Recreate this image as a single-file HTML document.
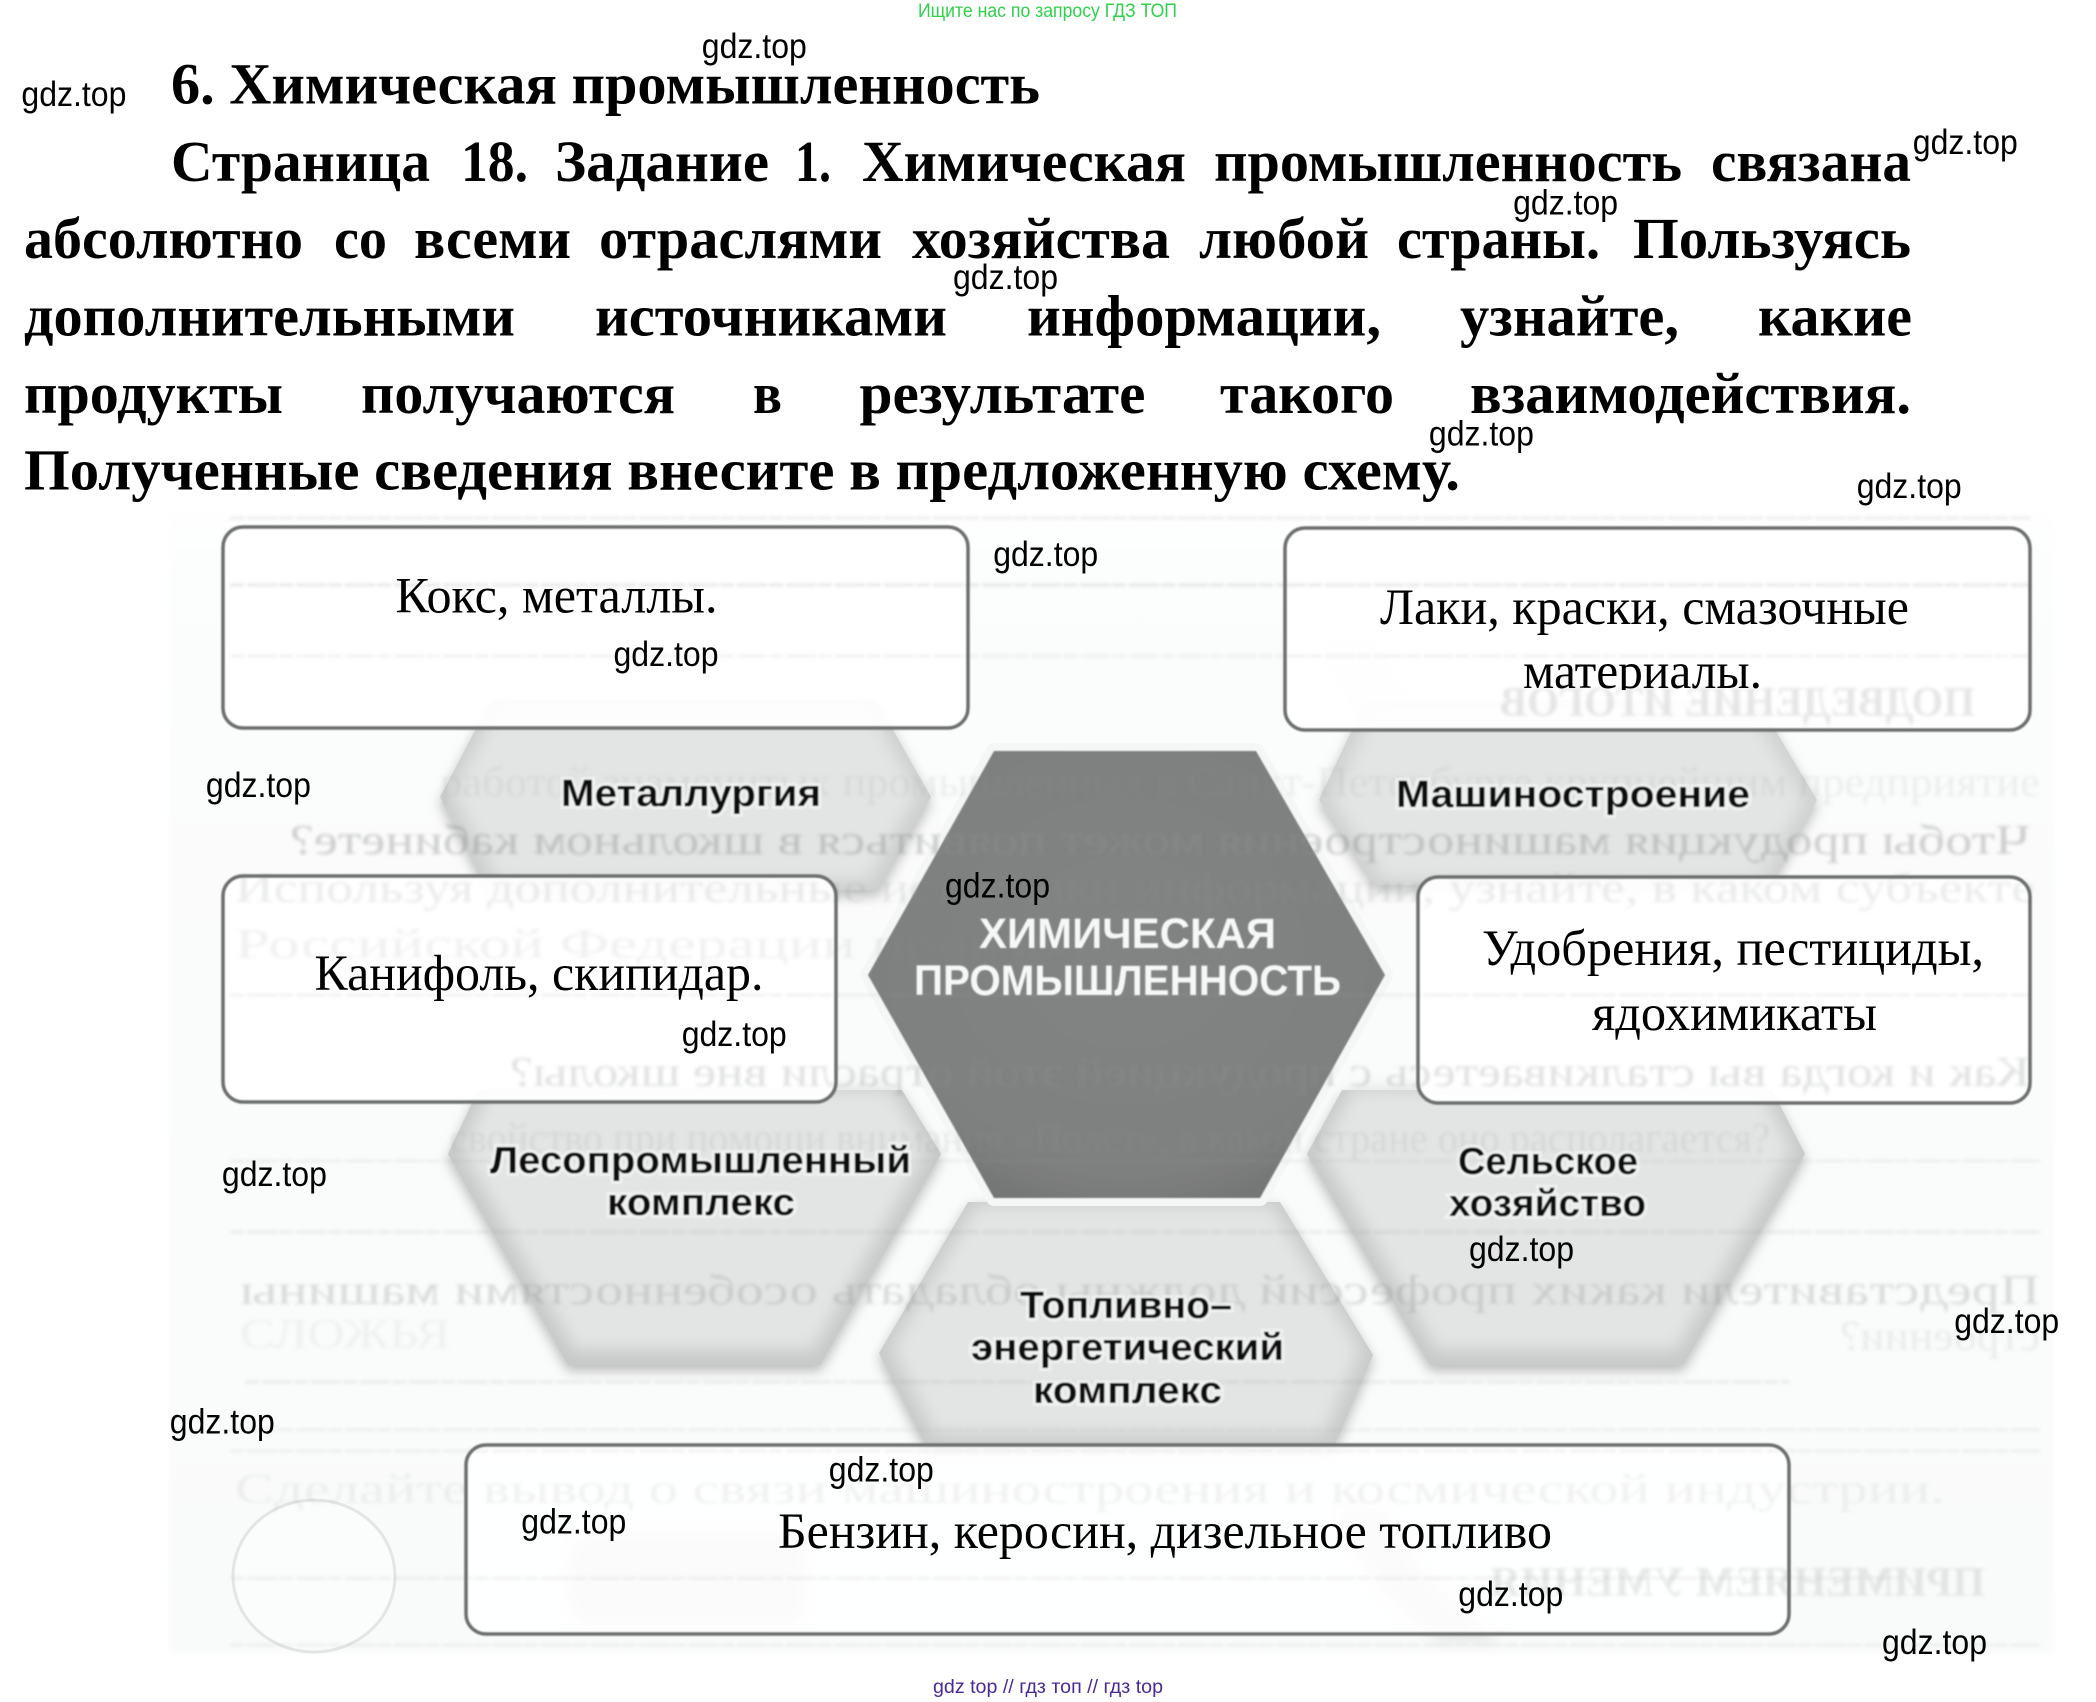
<!DOCTYPE html>
<html lang="ru"><head><meta charset="utf-8"><title>Химическая промышленность</title>
<style>
html,body{margin:0;padding:0;background:#fff}
svg{display:block}
.b{font-family:"Liberation Serif",serif;font-weight:bold;font-size:58px;fill:#000}
.w{font-family:"Liberation Sans",sans-serif;font-size:35px;fill:#000}
.a{font-family:"Liberation Serif",serif;font-size:51px;fill:#000}
.l{font-family:"Liberation Sans",sans-serif;font-weight:bold;font-size:38px;fill:#0a0a0a;paint-order:stroke;stroke:#f3f5f4;stroke-opacity:.75;stroke-width:6px}
.g{font-family:"Liberation Serif",serif;font-size:42px;fill:#8d8f8f}
.s{fill:none;stroke:#6c6e6e;stroke-width:3.5}
.hx{fill:#b9bbba}
.hi{fill:#e3e5e4}
</style></head><body>
<svg width="2096" height="1702" viewBox="0 0 2096 1702" xmlns="http://www.w3.org/2000/svg">
<defs>
<filter id="f1" x="-5%" y="-50%" width="110%" height="200%"><feGaussianBlur stdDeviation="1.7"/></filter>
<filter id="f2" x="-20%" y="-20%" width="140%" height="140%"><feGaussianBlur stdDeviation="6"/></filter>
<filter id="f3" x="-5%" y="-5%" width="110%" height="110%"><feGaussianBlur stdDeviation="3"/></filter>
<filter id="f4" x="-5%" y="-50%" width="110%" height="200%"><feGaussianBlur stdDeviation=".7"/></filter>
<filter id="f5" x="-5%" y="-5%" width="110%" height="110%"><feGaussianBlur stdDeviation=".8"/></filter>
<filter id="f7" x="-20%" y="-20%" width="140%" height="140%"><feGaussianBlur stdDeviation="9"/></filter>
<linearGradient id="bgg" x1="0" y1="0" x2="0" y2="1"><stop offset="0" stop-color="#fefefe"/><stop offset=".06" stop-color="#fcfdfd"/><stop offset=".4" stop-color="#fafbfb"/><stop offset="1" stop-color="#f9fafa"/></linearGradient>
<radialGradient id="cg" cx=".5" cy=".45" r=".66"><stop offset="0" stop-color="#828483"/><stop offset=".75" stop-color="#7e807f"/><stop offset="1" stop-color="#6d6f6e"/></radialGradient>
<clipPath id="cm"><rect x="1400" y="640" width="500" height="50"/></clipPath>
<polygon id="h1" points="491,700 876,700 931,797 878,890 488,890 440,797"/>
<polygon id="h2" points="478,1090 902,1090 941,1154 820,1365 568,1365 448,1154"/>
<polygon id="h3" points="1366,700 1757,700 1817,800 1770,885 1375,885 1319,800"/>
<polygon id="h4" points="1342,1090 1772,1090 1805,1154 1683,1365 1430,1365 1307,1154"/>
<polygon id="h5" points="968,1202 1280,1202 1373,1355 1335,1444 925,1444 879,1353"/>
<polygon id="h6" points="994,751 1256,751 1385,975 1260,1198 994,1198 868,975"/>
</defs>

<rect width="2096" height="1702" fill="#fff"/>
<rect x="169" y="512" width="1885" height="1141" fill="url(#bgg)" filter="url(#f3)"/>

<!-- faint scan shapes -->
<g fill="#e3e4e4" filter="url(#f2)">
<path d="M1320 640 C1340 720 1420 790 1500 790 L1560 770 C1470 760 1400 710 1380 640Z"/>
<rect x="568" y="1532" width="239" height="94" rx="28"/>
<path d="M1340 1510 C1350 1560 1400 1620 1440 1640 L1500 1640 C1450 1600 1400 1560 1385 1510Z"/>
</g>
<ellipse cx="314" cy="1576" rx="81" ry="76" fill="#fbfcfc" stroke="#e4e5e5" stroke-width="3"/>

<!-- hexagons -->
<g>
<g><use href="#h1" class="hx" y="6" filter="url(#f2)"/><use href="#h1" fill="#cdcfce"/><use href="#h1" class="hi" transform="translate(685.5 795) scale(.95) translate(-685.5 -799)" filter="url(#f7)"/></g>
<g><use href="#h2" class="hx" y="6" filter="url(#f2)"/><use href="#h2" fill="#c7c9c8"/><use href="#h2" class="hi" transform="translate(694 1220) scale(.95) translate(-694 -1228)" filter="url(#f7)"/></g>
<g><use href="#h3" class="hx" y="6" filter="url(#f2)"/><use href="#h3" fill="#d0d2d1"/><use href="#h3" class="hi" transform="translate(1568 795) scale(.95) translate(-1568 -795)" filter="url(#f7)"/></g>
<g><use href="#h4" class="hx" y="6" filter="url(#f2)"/><use href="#h4" fill="#c8cac9"/><use href="#h4" class="hi" transform="translate(1556 1220) scale(.95) translate(-1556 -1228)" filter="url(#f7)"/></g>
<g><use href="#h5" class="hx" y="6" filter="url(#f2)"/><use href="#h5" fill="#c9cbca"/><use href="#h5" class="hi" transform="translate(1126 1322) scale(.95) translate(-1126 -1325)" filter="url(#f7)"/></g>
<use href="#h6" fill="#f3f5f4" stroke="#f5f7f6" stroke-width="16" stroke-linejoin="round"/>
<use href="#h6" fill="url(#cg)" filter="url(#f5)"/>
</g>

<!-- boxes (fill) -->
<rect x="223" y="527" width="745" height="201" rx="20" fill="#fff" fill-opacity=".92"/>
<rect x="223" y="876" width="613" height="226" rx="20" fill="#fff" fill-opacity=".94"/>
<rect x="1285" y="528" width="745" height="202" rx="20" fill="#fff" fill-opacity=".94"/>
<rect x="1418" y="877" width="612" height="226" rx="20" fill="#fff" fill-opacity=".94"/>
<rect x="466" y="1445" width="1323" height="189" rx="20" fill="#fff" fill-opacity=".85"/>

<!-- ghost show-through -->
<g filter="url(#f1)">
<g stroke="#9b9d9d" stroke-width="2" stroke-dasharray="14 3 30 2" opacity=".2">
<line x1="230" y1="518" x2="2030" y2="518" stroke="#777979"/>
<line x1="230" y1="585" x2="2030" y2="585" stroke="#6f7171" stroke-width="2.5"/>
<line x1="230" y1="656" x2="2030" y2="656"/>
<line x1="230" y1="995" x2="2030" y2="995"/>
<line x1="230" y1="1161" x2="2040" y2="1161"/>
<line x1="230" y1="1232" x2="2040" y2="1232" stroke="#7e8080"/>
<line x1="245" y1="1382" x2="1790" y2="1382" stroke="#7e8080"/>
<line x1="230" y1="1430" x2="2040" y2="1430"/>
<line x1="230" y1="1451" x2="2040" y2="1451"/>
<line x1="230" y1="1578" x2="1900" y2="1578"/>
<line x1="230" y1="1645" x2="2040" y2="1645"/>
</g>
<text class="g" opacity=".14" x="440" y="796" textLength="1600" lengthAdjust="spacingAndGlyphs">работой знаменитых промышленных в Санкт-Петербурге крупнейшим предприятие</text>
<text class="g" opacity=".42" transform="translate(2260 0) scale(-1 1)" x="230" y="854" textLength="1740" lengthAdjust="spacingAndGlyphs">Чтобы продукция машиностроения может появиться в школьном кабинете?</text>
<text class="g" opacity=".18" x="235" y="902" textLength="1800" lengthAdjust="spacingAndGlyphs">Используя дополнительные источники информации, узнайте, в каком субъекте</text>
<text class="g" opacity=".12" x="235" y="958" textLength="1000" lengthAdjust="spacingAndGlyphs">Российской Федерации производится</text>
<text class="g" opacity=".28" transform="translate(2540 0) scale(-1 1)" x="510" y="1086" textLength="1520" lengthAdjust="spacingAndGlyphs">Как и когда вы сталкиваетесь с продукцией этой отрасли вне школы?</text>
<text class="g" opacity=".17" x="450" y="1152" textLength="1320" lengthAdjust="spacingAndGlyphs">свойство при помощи внимания «Полёт», в какой стране оно располагается?</text>
<text class="g" opacity=".3" transform="translate(2280 0) scale(-1 1)" x="240" y="1304" textLength="1800" lengthAdjust="spacingAndGlyphs">Представители каких профессий должны обладать особенностями машины</text>
<text class="g" opacity=".15" transform="translate(3880 0) scale(-1 1)" x="1840" y="1350" textLength="200" lengthAdjust="spacingAndGlyphs">строении?</text>
<text class="g" opacity=".1" x="240" y="1348" textLength="210" lengthAdjust="spacingAndGlyphs">СЛОЖЬЯ</text>
<text class="g" opacity=".12" x="235" y="1503" textLength="1710" lengthAdjust="spacingAndGlyphs">Сделайте вывод о связи машиностроения и космической индустрии.</text>
<text class="g" opacity=".2" font-weight="bold" transform="translate(3475 0) scale(-1 1)" x="1490" y="1596" textLength="495" lengthAdjust="spacingAndGlyphs">ПРИМЕНЯЕМ УМЕНИЯ</text>
<text class="g" opacity=".22" font-weight="bold" transform="translate(3475 0) scale(-1 1)" x="1500" y="716" textLength="475" lengthAdjust="spacingAndGlyphs">ПОДВЕДЕНИЕ ИТОГОВ</text>
</g>

<!-- box strokes -->
<g filter="url(#f5)">
<rect class="s" x="223" y="527" width="745" height="201" rx="20"/>
<rect class="s" x="223" y="876" width="613" height="226" rx="20"/>
<rect class="s" x="1285" y="528" width="745" height="202" rx="20"/>
<rect class="s" x="1418" y="877" width="612" height="226" rx="20"/>
<rect class="s" x="466" y="1445" width="1323" height="189" rx="20"/>
</g>

<!-- hexagon labels -->
<g filter="url(#f4)">
<text class="l" x="561" y="806" textLength="260" lengthAdjust="spacingAndGlyphs">Металлургия</text>
<text class="l" x="1396" y="807" textLength="354" lengthAdjust="spacingAndGlyphs">Машиностроение</text>
<text class="l" x="979" y="948" textLength="297" lengthAdjust="spacingAndGlyphs" style="fill:#f6f7f7;stroke:none;font-size:43px">ХИМИЧЕСКАЯ</text>
<text class="l" x="914" y="995" textLength="427" lengthAdjust="spacingAndGlyphs" style="fill:#f6f7f7;stroke:none;font-size:43px">ПРОМЫШЛЕННОСТЬ</text>
<text class="l" x="490" y="1173" textLength="421" lengthAdjust="spacingAndGlyphs">Лесопромышленный</text>
<text class="l" x="607" y="1215" textLength="188" lengthAdjust="spacingAndGlyphs">комплекс</text>
<text class="l" x="1458" y="1174" textLength="180" lengthAdjust="spacingAndGlyphs">Сельское</text>
<text class="l" x="1449" y="1216" textLength="197" lengthAdjust="spacingAndGlyphs">хозяйство</text>
<text class="l" x="1020" y="1318" textLength="212" lengthAdjust="spacingAndGlyphs">Топливно–</text>
<text class="l" x="971" y="1360" textLength="313" lengthAdjust="spacingAndGlyphs">энергетический</text>
<text class="l" x="1033" y="1403" textLength="189" lengthAdjust="spacingAndGlyphs">комплекс</text>
</g>

<!-- answers -->
<text class="a" x="395.5" y="612.5" textLength="322" lengthAdjust="spacingAndGlyphs">Кокс, металлы.</text>
<text class="a" x="314.5" y="990" textLength="449" lengthAdjust="spacingAndGlyphs">Канифоль, скипидар.</text>
<text class="a" x="1380" y="624" textLength="529" lengthAdjust="spacingAndGlyphs">Лаки, краски, смазочные</text>
<g clip-path="url(#cm)"><text class="a" x="1523" y="688" textLength="239" lengthAdjust="spacingAndGlyphs">материалы.</text></g>
<text class="a" x="1482" y="965" textLength="502" lengthAdjust="spacingAndGlyphs">Удобрения, пестициды,</text>
<text class="a" x="1592" y="1030" textLength="285" lengthAdjust="spacingAndGlyphs">ядохимикаты</text>
<text class="a" x="778" y="1548" textLength="774" lengthAdjust="spacingAndGlyphs">Бензин, керосин, дизельное топливо</text>

<!-- main text -->
<text class="b" x="171" y="103.5" textLength="869" lengthAdjust="spacingAndGlyphs">6. Химическая промышленность</text>

<text class="b" x="171" y="181" textLength="259" lengthAdjust="spacingAndGlyphs">Страница</text>
<text class="b" x="461" y="181" textLength="67" lengthAdjust="spacingAndGlyphs">18.</text>
<text class="b" x="555" y="181" textLength="214" lengthAdjust="spacingAndGlyphs">Задание</text>
<text class="b" x="795" y="181" textLength="36" lengthAdjust="spacingAndGlyphs">1.</text>
<text class="b" x="862" y="181" textLength="324" lengthAdjust="spacingAndGlyphs">Химическая</text>
<text class="b" x="1214" y="181" textLength="468" lengthAdjust="spacingAndGlyphs">промышленность</text>
<text class="b" x="1711" y="181" textLength="200" lengthAdjust="spacingAndGlyphs">связана</text>

<text class="b" x="24" y="258" textLength="279" lengthAdjust="spacingAndGlyphs">абсолютно</text>
<text class="b" x="334" y="258" textLength="53" lengthAdjust="spacingAndGlyphs">со</text>
<text class="b" x="414" y="258" textLength="157" lengthAdjust="spacingAndGlyphs">всеми</text>
<text class="b" x="599" y="258" textLength="283" lengthAdjust="spacingAndGlyphs">отраслями</text>
<text class="b" x="912" y="258" textLength="258" lengthAdjust="spacingAndGlyphs">хозяйства</text>
<text class="b" x="1199" y="258" textLength="170" lengthAdjust="spacingAndGlyphs">любой</text>
<text class="b" x="1397" y="258" textLength="203" lengthAdjust="spacingAndGlyphs">страны.</text>
<text class="b" x="1633" y="258" textLength="278" lengthAdjust="spacingAndGlyphs">Пользуясь</text>

<text class="b" x="24" y="335.5" textLength="491" lengthAdjust="spacingAndGlyphs">дополнительными</text>
<text class="b" x="595" y="335.5" textLength="352" lengthAdjust="spacingAndGlyphs">источниками</text>
<text class="b" x="1027" y="335.5" textLength="354" lengthAdjust="spacingAndGlyphs">информации,</text>
<text class="b" x="1460" y="335.5" textLength="219" lengthAdjust="spacingAndGlyphs">узнайте,</text>
<text class="b" x="1758" y="335.5" textLength="154" lengthAdjust="spacingAndGlyphs">какие</text>

<text class="b" x="24" y="413" textLength="259" lengthAdjust="spacingAndGlyphs">продукты</text>
<text class="b" x="361" y="413" textLength="314" lengthAdjust="spacingAndGlyphs">получаются</text>
<text class="b" x="753" y="413" textLength="29" lengthAdjust="spacingAndGlyphs">в</text>
<text class="b" x="859.5" y="413" textLength="286" lengthAdjust="spacingAndGlyphs">результате</text>
<text class="b" x="1220" y="413" textLength="174" lengthAdjust="spacingAndGlyphs">такого</text>
<text class="b" x="1470" y="413" textLength="441" lengthAdjust="spacingAndGlyphs">взаимодействия.</text>

<text class="b" x="24" y="489.5" textLength="1436" lengthAdjust="spacingAndGlyphs">Полученные сведения внесите в предложенную схему.</text>

<!-- header / footer -->
<text x="918" y="17" textLength="259" lengthAdjust="spacingAndGlyphs" style="font-family:'Liberation Sans',sans-serif;font-size:19px;fill:#2fd04a">Ищите нас по запросу ГДЗ ТОП</text>
<text x="933" y="1693" textLength="230" lengthAdjust="spacingAndGlyphs" style="font-family:'Liberation Sans',sans-serif;font-size:19px;fill:#4a2a96">gdz top  //  гдз топ  //  гдз top</text>

<!-- watermarks -->
<text class="w" x="701.8" y="58" textLength="105" lengthAdjust="spacingAndGlyphs">gdz.top</text>
<text class="w" x="21.4" y="106" textLength="105" lengthAdjust="spacingAndGlyphs">gdz.top</text>
<text class="w" x="1912.8" y="154.2" textLength="105" lengthAdjust="spacingAndGlyphs">gdz.top</text>
<text class="w" x="1513.1" y="214.4" textLength="105" lengthAdjust="spacingAndGlyphs">gdz.top</text>
<text class="w" x="953" y="289.2" textLength="105" lengthAdjust="spacingAndGlyphs">gdz.top</text>
<text class="w" x="1428.9" y="445.6" textLength="105" lengthAdjust="spacingAndGlyphs">gdz.top</text>
<text class="w" x="1856.7" y="497.8" textLength="105" lengthAdjust="spacingAndGlyphs">gdz.top</text>
<text class="w" x="993.2" y="565.9" textLength="105" lengthAdjust="spacingAndGlyphs">gdz.top</text>
<text class="w" x="613.5" y="666.2" textLength="105" lengthAdjust="spacingAndGlyphs">gdz.top</text>
<text class="w" x="205.9" y="797.2" textLength="105" lengthAdjust="spacingAndGlyphs">gdz.top</text>
<text class="w" x="945" y="897.4" textLength="105" lengthAdjust="spacingAndGlyphs">gdz.top</text>
<text class="w" x="681.7" y="1045.8" textLength="105" lengthAdjust="spacingAndGlyphs">gdz.top</text>
<text class="w" x="221.9" y="1186.1" textLength="105" lengthAdjust="spacingAndGlyphs">gdz.top</text>
<text class="w" x="1469" y="1261" textLength="105" lengthAdjust="spacingAndGlyphs">gdz.top</text>
<text class="w" x="1954.2" y="1333.2" textLength="105" lengthAdjust="spacingAndGlyphs">gdz.top</text>
<text class="w" x="169.8" y="1433.4" textLength="105" lengthAdjust="spacingAndGlyphs">gdz.top</text>
<text class="w" x="828.8" y="1481.6" textLength="105" lengthAdjust="spacingAndGlyphs">gdz.top</text>
<text class="w" x="521.3" y="1533.7" textLength="105" lengthAdjust="spacingAndGlyphs">gdz.top</text>
<text class="w" x="1458.3" y="1605.9" textLength="105" lengthAdjust="spacingAndGlyphs">gdz.top</text>
<text class="w" x="1882" y="1654" textLength="105" lengthAdjust="spacingAndGlyphs">gdz.top</text>
</svg>
</body></html>
